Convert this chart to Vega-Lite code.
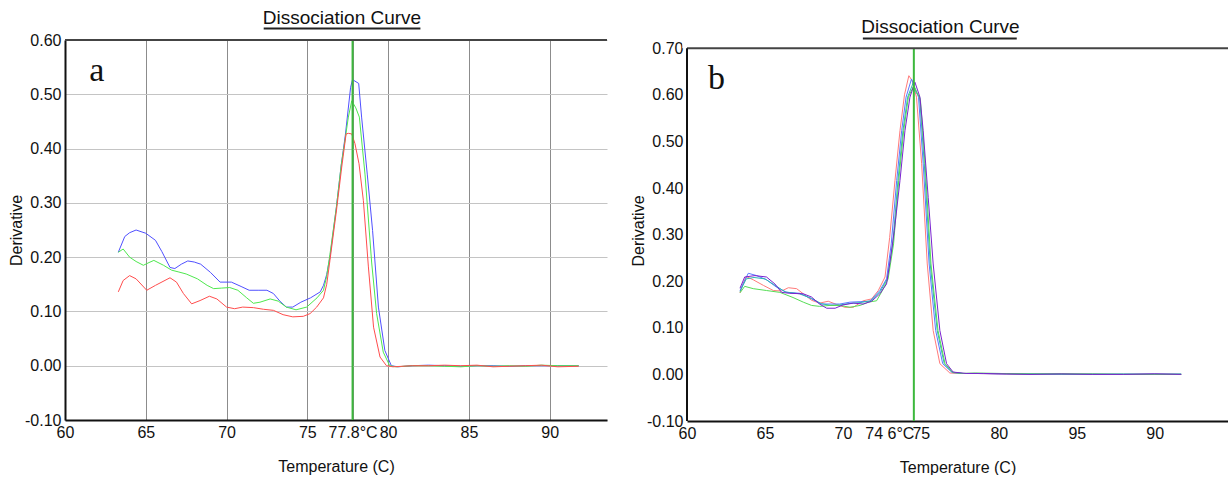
{
  "$schema": "https://vega.github.io/schema/vega-lite/v6.json",
  "background": "white",
  "padding": {"left": 8, "top": 9, "right": 0, "bottom": 0},
  "spacing": 22,
  "config": {
    "font": "Liberation Sans",
    "view": {"stroke": null, "fill": "white"},
    "axis": {"labelFont": "Liberation Sans", "labelFontSize": 16, "labelColor": "#111", "titleFont": "Liberation Sans", "titleFontSize": 16, "titleFontWeight": "normal", "titleColor": "#111", "domainColor": "#111", "domainWidth": 2, "ticks": false, "labelFlush": false, "labelOverlap": false, "labelPadding": 4},
    "axisX": {"gridColor": "#8c8c8c", "gridOpacity": 1, "gridWidth": 1, "titlePadding": 18},
    "axisY": {"gridColor": "#c4c4c4", "gridOpacity": 1, "gridWidth": 1, "labelPadding": 4, "titlePadding": 6, "minExtent": 35, "maxExtent": 35},
    "title": {"font": "Liberation Sans", "fontSize": 19, "fontWeight": "normal", "color": "#111", "anchor": "middle", "frame": "group"}
  },
  "datasets": {
    "a": [
      {"T":63.3,"v":0.209,"s":"blue"},{"T":63.7,"v":0.238,"s":"blue"},{"T":64.0,"v":0.245,"s":"blue"},{"T":64.4,"v":0.25,"s":"blue"},{"T":65.0,"v":0.244,"s":"blue"},{"T":65.6,"v":0.231,"s":"blue"},{"T":66.0,"v":0.21,"s":"blue"},{"T":66.5,"v":0.181,"s":"blue"},{"T":66.8,"v":0.179,"s":"blue"},{"T":67.2,"v":0.187,"s":"blue"},{"T":67.6,"v":0.193,"s":"blue"},{"T":68.0,"v":0.191,"s":"blue"},{"T":68.4,"v":0.187,"s":"blue"},{"T":69.0,"v":0.172,"s":"blue"},{"T":69.6,"v":0.154,"s":"blue"},{"T":70.3,"v":0.154,"s":"blue"},{"T":70.9,"v":0.146,"s":"blue"},{"T":71.4,"v":0.139,"s":"blue"},{"T":72.0,"v":0.139,"s":"blue"},{"T":72.5,"v":0.139,"s":"blue"},{"T":72.9,"v":0.133,"s":"blue"},{"T":73.3,"v":0.119,"s":"blue"},{"T":73.7,"v":0.108,"s":"blue"},{"T":74.1,"v":0.108,"s":"blue"},{"T":74.6,"v":0.117,"s":"blue"},{"T":75.2,"v":0.125,"s":"blue"},{"T":75.8,"v":0.136,"s":"blue"},{"T":76.0,"v":0.148,"s":"blue"},{"T":76.2,"v":0.168,"s":"blue"},{"T":76.4,"v":0.2,"s":"blue"},{"T":76.8,"v":0.292,"s":"blue"},{"T":77.1,"v":0.37,"s":"blue"},{"T":77.35,"v":0.424,"s":"blue"},{"T":77.68,"v":0.513,"s":"blue"},{"T":77.8,"v":0.527,"s":"blue"},{"T":78.18,"v":0.52,"s":"blue"},{"T":78.36,"v":0.458,"s":"blue"},{"T":78.71,"v":0.353,"s":"blue"},{"T":79.04,"v":0.249,"s":"blue"},{"T":79.4,"v":0.108,"s":"blue"},{"T":79.8,"v":0.028,"s":"blue"},{"T":80.2,"v":0.0,"s":"blue"},{"T":80.6,"v":-0.002,"s":"blue"},{"T":81.5,"v":0.0,"s":"blue"},{"T":82.5,"v":0.001,"s":"blue"},{"T":83.5,"v":0.0,"s":"blue"},{"T":84.5,"v":-0.001,"s":"blue"},{"T":85.5,"v":0.0,"s":"blue"},{"T":86.5,"v":0.0,"s":"blue"},{"T":87.5,"v":-0.001,"s":"blue"},{"T":88.5,"v":0.0,"s":"blue"},{"T":89.5,"v":0.0,"s":"blue"},{"T":90.5,"v":0.0,"s":"blue"},{"T":91.8,"v":0.0,"s":"blue"},
      {"T":63.3,"v":0.209,"s":"green"},{"T":63.6,"v":0.215,"s":"green"},{"T":64.0,"v":0.2,"s":"green"},{"T":64.4,"v":0.192,"s":"green"},{"T":64.85,"v":0.185,"s":"green"},{"T":65.2,"v":0.19,"s":"green"},{"T":65.5,"v":0.194,"s":"green"},{"T":66.1,"v":0.185,"s":"green"},{"T":66.6,"v":0.176,"s":"green"},{"T":67.0,"v":0.173,"s":"green"},{"T":67.5,"v":0.169,"s":"green"},{"T":68.2,"v":0.16,"s":"green"},{"T":68.8,"v":0.148,"s":"green"},{"T":69.2,"v":0.142,"s":"green"},{"T":69.7,"v":0.143,"s":"green"},{"T":70.2,"v":0.144,"s":"green"},{"T":70.7,"v":0.139,"s":"green"},{"T":71.25,"v":0.125,"s":"green"},{"T":71.66,"v":0.115,"s":"green"},{"T":72.07,"v":0.117,"s":"green"},{"T":72.7,"v":0.123,"s":"green"},{"T":73.2,"v":0.119,"s":"green"},{"T":73.7,"v":0.108,"s":"green"},{"T":74.3,"v":0.103,"s":"green"},{"T":74.96,"v":0.108,"s":"green"},{"T":75.6,"v":0.125,"s":"green"},{"T":76.0,"v":0.139,"s":"green"},{"T":76.2,"v":0.165,"s":"green"},{"T":76.4,"v":0.205,"s":"green"},{"T":76.8,"v":0.292,"s":"green"},{"T":77.1,"v":0.37,"s":"green"},{"T":77.33,"v":0.415,"s":"green"},{"T":77.54,"v":0.458,"s":"green"},{"T":77.75,"v":0.488,"s":"green"},{"T":78.0,"v":0.475,"s":"green"},{"T":78.22,"v":0.458,"s":"green"},{"T":78.57,"v":0.353,"s":"green"},{"T":78.98,"v":0.191,"s":"green"},{"T":79.29,"v":0.096,"s":"green"},{"T":79.7,"v":0.025,"s":"green"},{"T":80.1,"v":0.0,"s":"green"},{"T":80.5,"v":-0.002,"s":"green"},{"T":81.5,"v":0.0,"s":"green"},{"T":82.5,"v":0.0,"s":"green"},{"T":83.5,"v":-0.001,"s":"green"},{"T":84.5,"v":-0.002,"s":"green"},{"T":85.5,"v":0.0,"s":"green"},{"T":86.5,"v":-0.001,"s":"green"},{"T":87.5,"v":0.0,"s":"green"},{"T":88.5,"v":-0.001,"s":"green"},{"T":89.5,"v":0.001,"s":"green"},{"T":90.5,"v":0.0,"s":"green"},{"T":91.8,"v":0.0,"s":"green"},
      {"T":63.3,"v":0.136,"s":"red"},{"T":63.6,"v":0.157,"s":"red"},{"T":64.0,"v":0.166,"s":"red"},{"T":64.4,"v":0.16,"s":"red"},{"T":65.06,"v":0.139,"s":"red"},{"T":65.6,"v":0.148,"s":"red"},{"T":66.5,"v":0.162,"s":"red"},{"T":66.9,"v":0.154,"s":"red"},{"T":67.33,"v":0.133,"s":"red"},{"T":67.84,"v":0.114,"s":"red"},{"T":68.36,"v":0.12,"s":"red"},{"T":68.94,"v":0.128,"s":"red"},{"T":69.4,"v":0.123,"s":"red"},{"T":70.0,"v":0.108,"s":"red"},{"T":70.5,"v":0.105,"s":"red"},{"T":71.0,"v":0.108,"s":"red"},{"T":71.66,"v":0.107,"s":"red"},{"T":72.28,"v":0.104,"s":"red"},{"T":72.9,"v":0.102,"s":"red"},{"T":73.5,"v":0.094,"s":"red"},{"T":74.1,"v":0.09,"s":"red"},{"T":74.75,"v":0.091,"s":"red"},{"T":75.17,"v":0.096,"s":"red"},{"T":75.58,"v":0.108,"s":"red"},{"T":76.0,"v":0.125,"s":"red"},{"T":76.2,"v":0.15,"s":"red"},{"T":76.4,"v":0.194,"s":"red"},{"T":76.8,"v":0.285,"s":"red"},{"T":77.13,"v":0.366,"s":"red"},{"T":77.4,"v":0.427,"s":"red"},{"T":77.54,"v":0.428,"s":"red"},{"T":77.75,"v":0.427,"s":"red"},{"T":77.95,"v":0.409,"s":"red"},{"T":78.2,"v":0.372,"s":"red"},{"T":78.47,"v":0.304,"s":"red"},{"T":78.78,"v":0.182,"s":"red"},{"T":79.1,"v":0.071,"s":"red"},{"T":79.5,"v":0.016,"s":"red"},{"T":79.9,"v":0.0,"s":"red"},{"T":80.3,"v":-0.002,"s":"red"},{"T":81.5,"v":0.0,"s":"red"},{"T":82.5,"v":0.0,"s":"red"},{"T":83.5,"v":0.001,"s":"red"},{"T":84.5,"v":0.0,"s":"red"},{"T":85.5,"v":0.001,"s":"red"},{"T":86.5,"v":-0.002,"s":"red"},{"T":87.5,"v":-0.001,"s":"red"},{"T":88.5,"v":0.0,"s":"red"},{"T":89.5,"v":0.001,"s":"red"},{"T":90.5,"v":-0.002,"s":"red"},{"T":91.8,"v":-0.001,"s":"red"}
    ],
    "b": [
      {"T":63.4,"v":0.175,"s":"red"},{"T":63.6,"v":0.195,"s":"red"},{"T":63.8,"v":0.21,"s":"red"},{"T":64.25,"v":0.203,"s":"red"},{"T":64.9,"v":0.191,"s":"red"},{"T":65.54,"v":0.18,"s":"red"},{"T":66.07,"v":0.179,"s":"red"},{"T":66.5,"v":0.186,"s":"red"},{"T":67.03,"v":0.184,"s":"red"},{"T":67.46,"v":0.173,"s":"red"},{"T":67.99,"v":0.159,"s":"red"},{"T":68.5,"v":0.153,"s":"red"},{"T":69.06,"v":0.157,"s":"red"},{"T":69.6,"v":0.15,"s":"red"},{"T":70.13,"v":0.144,"s":"red"},{"T":70.67,"v":0.144,"s":"red"},{"T":71.3,"v":0.158,"s":"red"},{"T":71.84,"v":0.162,"s":"red"},{"T":72.27,"v":0.18,"s":"red"},{"T":72.7,"v":0.209,"s":"red"},{"T":73.0,"v":0.294,"s":"red"},{"T":73.34,"v":0.416,"s":"red"},{"T":73.66,"v":0.523,"s":"red"},{"T":73.95,"v":0.6,"s":"red"},{"T":74.23,"v":0.641,"s":"red"},{"T":74.45,"v":0.63,"s":"red"},{"T":74.72,"v":0.595,"s":"red"},{"T":75.05,"v":0.452,"s":"red"},{"T":75.41,"v":0.237,"s":"red"},{"T":75.79,"v":0.094,"s":"red"},{"T":76.22,"v":0.023,"s":"red"},{"T":76.86,"v":0.003,"s":"red"},{"T":77.5,"v":0.002,"s":"red"},{"T":78.5,"v":0.002,"s":"red"},{"T":80,"v":0.001,"s":"red"},{"T":82,"v":0.0,"s":"red"},{"T":84,"v":0.001,"s":"red"},{"T":86,"v":0.0,"s":"red"},{"T":88,"v":0.0,"s":"red"},{"T":90,"v":0.001,"s":"red"},{"T":91.7,"v":0.0,"s":"red"},
      {"T":63.4,"v":0.18,"s":"blue"},{"T":63.93,"v":0.217,"s":"blue"},{"T":64.47,"v":0.212,"s":"blue"},{"T":65.1,"v":0.203,"s":"blue"},{"T":65.75,"v":0.187,"s":"blue"},{"T":66.4,"v":0.176,"s":"blue"},{"T":67.25,"v":0.174,"s":"blue"},{"T":67.99,"v":0.162,"s":"blue"},{"T":68.6,"v":0.151,"s":"blue"},{"T":69.17,"v":0.151,"s":"blue"},{"T":69.8,"v":0.151,"s":"blue"},{"T":70.45,"v":0.155,"s":"blue"},{"T":71.1,"v":0.156,"s":"blue"},{"T":71.73,"v":0.157,"s":"blue"},{"T":72.37,"v":0.18,"s":"blue"},{"T":72.8,"v":0.205,"s":"blue"},{"T":73.1,"v":0.28,"s":"blue"},{"T":73.45,"v":0.416,"s":"blue"},{"T":73.77,"v":0.523,"s":"blue"},{"T":74.05,"v":0.595,"s":"blue"},{"T":74.4,"v":0.634,"s":"blue"},{"T":74.6,"v":0.615,"s":"blue"},{"T":74.85,"v":0.595,"s":"blue"},{"T":75.15,"v":0.452,"s":"blue"},{"T":75.53,"v":0.237,"s":"blue"},{"T":75.95,"v":0.094,"s":"blue"},{"T":76.4,"v":0.023,"s":"blue"},{"T":77.0,"v":0.004,"s":"blue"},{"T":77.6,"v":0.002,"s":"blue"},{"T":78.5,"v":0.002,"s":"blue"},{"T":80,"v":0.001,"s":"blue"},{"T":82,"v":0.001,"s":"blue"},{"T":84,"v":0.0,"s":"blue"},{"T":86,"v":0.001,"s":"blue"},{"T":88,"v":0.0,"s":"blue"},{"T":90,"v":0.001,"s":"blue"},{"T":91.7,"v":0.0,"s":"blue"},
      {"T":63.4,"v":0.178,"s":"cyan"},{"T":63.8,"v":0.205,"s":"cyan"},{"T":64.3,"v":0.208,"s":"cyan"},{"T":65.0,"v":0.205,"s":"cyan"},{"T":65.7,"v":0.19,"s":"cyan"},{"T":66.3,"v":0.177,"s":"cyan"},{"T":67.2,"v":0.173,"s":"cyan"},{"T":68.0,"v":0.163,"s":"cyan"},{"T":68.6,"v":0.152,"s":"cyan"},{"T":69.2,"v":0.148,"s":"cyan"},{"T":69.8,"v":0.149,"s":"cyan"},{"T":70.4,"v":0.152,"s":"cyan"},{"T":71.1,"v":0.154,"s":"cyan"},{"T":71.8,"v":0.158,"s":"cyan"},{"T":72.4,"v":0.178,"s":"cyan"},{"T":72.85,"v":0.205,"s":"cyan"},{"T":73.2,"v":0.28,"s":"cyan"},{"T":73.53,"v":0.416,"s":"cyan"},{"T":73.85,"v":0.523,"s":"cyan"},{"T":74.15,"v":0.595,"s":"cyan"},{"T":74.5,"v":0.625,"s":"cyan"},{"T":74.7,"v":0.605,"s":"cyan"},{"T":74.92,"v":0.595,"s":"cyan"},{"T":75.22,"v":0.452,"s":"cyan"},{"T":75.6,"v":0.237,"s":"cyan"},{"T":76.05,"v":0.094,"s":"cyan"},{"T":76.5,"v":0.023,"s":"cyan"},{"T":77.0,"v":0.005,"s":"cyan"},{"T":77.7,"v":0.002,"s":"cyan"},{"T":78.5,"v":0.002,"s":"cyan"},{"T":80,"v":0.002,"s":"cyan"},{"T":82,"v":0.001,"s":"cyan"},{"T":84,"v":0.001,"s":"cyan"},{"T":86,"v":0.0,"s":"cyan"},{"T":88,"v":0.001,"s":"cyan"},{"T":90,"v":0.0,"s":"cyan"},{"T":91.7,"v":0.001,"s":"cyan"},
      {"T":63.4,"v":0.175,"s":"green"},{"T":63.7,"v":0.189,"s":"green"},{"T":64.25,"v":0.184,"s":"green"},{"T":65.1,"v":0.18,"s":"green"},{"T":65.96,"v":0.176,"s":"green"},{"T":66.8,"v":0.165,"s":"green"},{"T":67.46,"v":0.155,"s":"green"},{"T":67.99,"v":0.148,"s":"green"},{"T":68.5,"v":0.146,"s":"green"},{"T":69.17,"v":0.148,"s":"green"},{"T":69.8,"v":0.148,"s":"green"},{"T":70.45,"v":0.144,"s":"green"},{"T":71.1,"v":0.148,"s":"green"},{"T":71.63,"v":0.155,"s":"green"},{"T":72.16,"v":0.158,"s":"green"},{"T":72.5,"v":0.178,"s":"green"},{"T":72.9,"v":0.205,"s":"green"},{"T":73.25,"v":0.28,"s":"green"},{"T":73.58,"v":0.416,"s":"green"},{"T":73.9,"v":0.523,"s":"green"},{"T":74.2,"v":0.595,"s":"green"},{"T":74.55,"v":0.62,"s":"green"},{"T":74.75,"v":0.605,"s":"green"},{"T":74.97,"v":0.59,"s":"green"},{"T":75.27,"v":0.452,"s":"green"},{"T":75.65,"v":0.237,"s":"green"},{"T":76.1,"v":0.094,"s":"green"},{"T":76.55,"v":0.023,"s":"green"},{"T":77.05,"v":0.004,"s":"green"},{"T":77.7,"v":0.002,"s":"green"},{"T":78.5,"v":0.003,"s":"green"},{"T":80,"v":0.002,"s":"green"},{"T":82,"v":0.001,"s":"green"},{"T":84,"v":0.001,"s":"green"},{"T":86,"v":0.001,"s":"green"},{"T":88,"v":0.0,"s":"green"},{"T":90,"v":0.0,"s":"green"},{"T":91.7,"v":0.0,"s":"green"},
      {"T":63.4,"v":0.185,"s":"purple"},{"T":63.7,"v":0.209,"s":"purple"},{"T":64.36,"v":0.212,"s":"purple"},{"T":65.1,"v":0.209,"s":"purple"},{"T":65.64,"v":0.194,"s":"purple"},{"T":66.07,"v":0.176,"s":"purple"},{"T":66.6,"v":0.174,"s":"purple"},{"T":67.46,"v":0.173,"s":"purple"},{"T":67.99,"v":0.166,"s":"purple"},{"T":68.5,"v":0.151,"s":"purple"},{"T":68.96,"v":0.142,"s":"purple"},{"T":69.5,"v":0.142,"s":"purple"},{"T":70.0,"v":0.149,"s":"purple"},{"T":70.67,"v":0.153,"s":"purple"},{"T":71.3,"v":0.151,"s":"purple"},{"T":71.84,"v":0.157,"s":"purple"},{"T":72.37,"v":0.173,"s":"purple"},{"T":72.8,"v":0.194,"s":"purple"},{"T":73.0,"v":0.237,"s":"purple"},{"T":73.3,"v":0.309,"s":"purple"},{"T":73.66,"v":0.416,"s":"purple"},{"T":73.98,"v":0.523,"s":"purple"},{"T":74.3,"v":0.595,"s":"purple"},{"T":74.62,"v":0.627,"s":"purple"},{"T":74.94,"v":0.595,"s":"purple"},{"T":75.15,"v":0.523,"s":"purple"},{"T":75.47,"v":0.38,"s":"purple"},{"T":75.79,"v":0.237,"s":"purple"},{"T":76.22,"v":0.094,"s":"purple"},{"T":76.65,"v":0.023,"s":"purple"},{"T":77.07,"v":0.005,"s":"purple"},{"T":77.9,"v":0.002,"s":"purple"},{"T":79,"v":0.002,"s":"purple"},{"T":80.5,"v":0.001,"s":"purple"},{"T":82,"v":0.0,"s":"purple"},{"T":84,"v":0.001,"s":"purple"},{"T":86,"v":0.0,"s":"purple"},{"T":88,"v":0.0,"s":"purple"},{"T":90,"v":0.001,"s":"purple"},{"T":91.7,"v":0.0,"s":"purple"}
    ]
  },
  "resolve": {"scale": {"x": "independent", "y": "independent", "color": "independent", "size": "independent"}},
  "hconcat": [
    {
      "width": 542,
      "height": 380,
      "title": {"text": "Dissociation Curve", "dx": 6, "offset": -1},
      "layer": [
        {
          "data": {"name": "a"},
          "mark": {"type": "line", "strokeWidth": 1},
          "encoding": {
            "x": {"field": "T", "type": "quantitative", "scale": {"domain": [60, 93.55], "nice": false, "zero": false},
              "axis": {"title": "Temperature (C)", "values": [60, 65, 70, 75, 77.8, 80, 85, 90], "labelExpr": "datum.value == 77.8 ? '77.8°C' : format(datum.value, 'd')"}},
            "y": {"field": "v", "type": "quantitative", "scale": {"domain": [-0.1, 0.6], "nice": false, "zero": false},
              "axis": {"title": "Derivative", "values": [-0.1, 0, 0.1, 0.2, 0.3, 0.4, 0.5, 0.6], "labelExpr": "replace(format(datum.value, '.2f'), '\u2212', '-')"}},
            "color": {"field": "s", "type": "nominal", "scale": {"domain": ["blue", "green", "red"], "range": ["#5050ff", "#4ee84e", "#ff4d4d"]}, "legend": null}
          }
        },
        {
          "data": {"values": [{}]},
          "mark": {"type": "rule", "color": "#3cb83c", "strokeWidth": 2},
          "encoding": {"x": {"datum": 77.8}}
        },
        {
          "data": {"values": [{}]},
          "mark": {"type": "rule", "color": "#444", "strokeWidth": 2},
          "encoding": {"y": {"datum": 0.6}}
        },
        {
          "data": {"values": [{}]},
          "mark": {"type": "rule", "color": "#222", "strokeWidth": 2},
          "encoding": {"x": {"datum": 72.3}, "x2": {"datum": 82.0}, "y": {"datum": 0.6212}}
        },
        {
          "data": {"values": [{}]},
          "mark": {"type": "text", "font": "Liberation Serif", "fontSize": 34, "align": "left", "baseline": "alphabetic", "color": "#111"},
          "encoding": {"x": {"datum": 61.5}, "y": {"datum": 0.525}, "text": {"value": "a"}}
        }
      ]
    },
    {
      "width": 541,
      "height": 381,
      "title": {"text": "Dissociation Curve", "dx": -17, "offset": 1},
      "layer": [
        {
          "data": {"values": [{}]},
          "mark": {"type": "rect", "color": "white"},
          "encoding": {"x": {"datum": 59.7}, "x2": {"datum": 94.7}, "y": {"datum": 0.7}, "y2": {"datum": 0.7176}}
        },
        {
          "data": {"name": "b"},
          "mark": {"type": "line"},
          "encoding": {
            "x": {"field": "T", "type": "quantitative", "scale": {"domain": [60, 94.7], "nice": false, "zero": false},
              "axis": {"title": "Temperature (C)", "values": [60, 65, 70, 74.55, 75, 80, 85, 90], "labelExpr": "datum.value == 74.55 ? '74 6°C' : datum.value == 85 ? '95' : format(datum.value, 'd')",
                "labelAlign": {"condition": {"test": "datum.value == 74.55", "value": "right"}, "value": "center"}}},
            "y": {"field": "v", "type": "quantitative", "scale": {"domain": [-0.1, 0.7176], "nice": false, "zero": false},
              "axis": {"title": "Derivative", "domain": false, "values": [-0.1, 0, 0.1, 0.2, 0.3, 0.4, 0.5, 0.6, 0.7], "labelExpr": "replace(format(datum.value, '.2f'), '\u2212', '-')"}},
            "color": {"field": "s", "type": "nominal", "scale": {"domain": ["red", "blue", "cyan", "green", "purple"], "range": ["#ff7a7a", "#5a78ff", "#2fb5b5", "#55dd55", "#7a22d0"]}, "legend": null},
            "size": {"field": "s", "type": "nominal", "scale": {"domain": ["red", "blue", "cyan", "green", "purple"], "range": [1, 1, 1, 1, 2]}, "legend": null}
          }
        },
        {
          "data": {"values": [{}]},
          "mark": {"type": "rule", "color": "#3cb83c", "strokeWidth": 2},
          "encoding": {"x": {"datum": 74.55}, "y": {"datum": -0.1}, "y2": {"datum": 0.7}}
        },
        {
          "data": {"values": [{}]},
          "mark": {"type": "rule", "color": "#444", "strokeWidth": 2},
          "encoding": {"y": {"datum": 0.7}}
        },
        {
          "data": {"values": [{}]},
          "mark": {"type": "rule", "color": "#111", "strokeWidth": 2},
          "encoding": {"x": {"datum": 60}, "y": {"datum": -0.1}, "y2": {"datum": 0.7}}
        },
        {
          "data": {"values": [{}]},
          "mark": {"type": "rule", "color": "#222", "strokeWidth": 2},
          "encoding": {"x": {"datum": 71.28}, "x2": {"datum": 81.15}, "y": {"datum": 0.7208}}
        },
        {
          "data": {"values": [{}]},
          "mark": {"type": "text", "font": "Liberation Serif", "fontSize": 34, "align": "left", "baseline": "alphabetic", "color": "#111"},
          "encoding": {"x": {"datum": 61.35}, "y": {"datum": 0.6135}, "text": {"value": "b"}}
        }
      ]
    }
  ]
}
